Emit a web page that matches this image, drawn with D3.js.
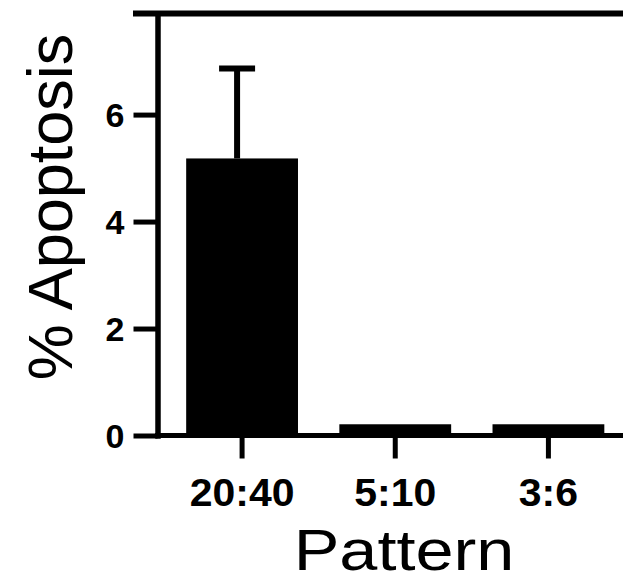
<!DOCTYPE html>
<html>
<head>
<meta charset="utf-8">
<script src="https://cdn.jsdelivr.net/npm/d3@7"></script>
<style>
  body { margin: 0; background: #fff; }
  text { font-family: "Liberation Sans", Arial, sans-serif; fill: #000; }
</style>
</head>
<body>
<script>
//Width and height
var w = 623;
var h = 581;

//Data
var patterns = ["20:40", "5:10", "3:6"];
var apoptosis = [5.18, 0.21, 0.21];
var errorUp = [1.68, 0, 0];
var yTicks = [0, 2, 4, 6];
var yMax = 7.89;

//Scales
var xScale = d3.scaleBand()
  .domain(patterns)
  .range([165.5, 625])
  .paddingInner(0.27)
  .paddingOuter(0.135);

var yScale = d3.scaleLinear()
  .domain([0, yMax])
  .range([435.5, 13.5]);

var svg = d3.select("body").append("svg").attr("width", w).attr("height", h);

//Bars
svg.selectAll("rect.bar")
  .data(patterns)
  .enter()
  .append("rect")
  .attr("class", "bar")
  .attr("x", function (d) { return xScale(d); })
  .attr("width", xScale.bandwidth())
  .attr("y", function (d, i) { return yScale(apoptosis[i]); })
  .attr("height", function (d, i) { return yScale(0) - yScale(apoptosis[i]); })
  .attr("fill", "#000");

//Error bars (upper only)
var errData = patterns.filter(function (d, i) { return errorUp[i] > 0; });
var errX = function (d) { return xScale(d) + xScale.bandwidth() / 2 - 5; };
var errTop = function (d) { var i = patterns.indexOf(d); return yScale(apoptosis[i] + errorUp[i]); };

var errG = svg.selectAll("g.err")
  .data(errData)
  .enter()
  .append("g")
  .attr("class", "err");

errG.append("line")
  .attr("x1", errX)
  .attr("x2", errX)
  .attr("y1", function (d) { return yScale(apoptosis[patterns.indexOf(d)]); })
  .attr("y2", errTop)
  .attr("stroke", "#000")
  .attr("stroke-width", 6);

errG.append("line")
  .attr("x1", function (d) { return errX(d) - 18; })
  .attr("x2", function (d) { return errX(d) + 18; })
  .attr("y1", errTop)
  .attr("y2", errTop)
  .attr("stroke", "#000")
  .attr("stroke-width", 6);

//Y axis
var yAxis = d3.axisLeft(yScale)
  .tickValues(yTicks)
  .tickSize(24)
  .tickSizeOuter(0)
  .tickPadding(9);

var yG = svg.append("g")
  .attr("transform", "translate(157.5,0)")
  .call(yAxis);

yG.select(".domain").attr("stroke-width", 5.5).attr("stroke-linecap", "square");
yG.selectAll(".tick line").attr("stroke-width", 5);
yG.selectAll(".tick text")
  .attr("font-size", 34)
  .attr("font-weight", "bold")
  .attr("dy", "0.36em");

//Top line of the frame
svg.append("line")
  .attr("x1", 133)
  .attr("x2", w)
  .attr("y1", yScale(yMax))
  .attr("y2", yScale(yMax))
  .attr("stroke", "#000")
  .attr("stroke-width", 6);

//X axis
var xAxis = d3.axisBottom(xScale)
  .tickSize(23)
  .tickSizeOuter(0)
  .tickPadding(20);

var xG = svg.append("g")
  .attr("transform", "translate(0," + yScale(0) + ")")
  .call(xAxis);

xG.select(".domain").remove();
xG.append("line")
  .attr("x1", 155)
  .attr("x2", w)
  .attr("stroke", "#000")
  .attr("stroke-width", 5);
xG.selectAll(".tick line").attr("stroke-width", 5);
xG.selectAll(".tick text")
  .attr("font-size", 39)
  .attr("font-weight", "bold")
  .attr("transform", "scale(1.05,1)");

//Axis titles
svg.append("text")
  .attr("transform", "translate(72,207) rotate(-90)")
  .attr("text-anchor", "middle")
  .attr("font-size", 63)
  .text("% Apoptosis");

svg.append("text")
  .attr("transform", "translate(404,569.5) scale(1.18,1)")
  .attr("text-anchor", "middle")
  .attr("font-size", 58)
  .text("Pattern");
</script>
</body>
</html>
